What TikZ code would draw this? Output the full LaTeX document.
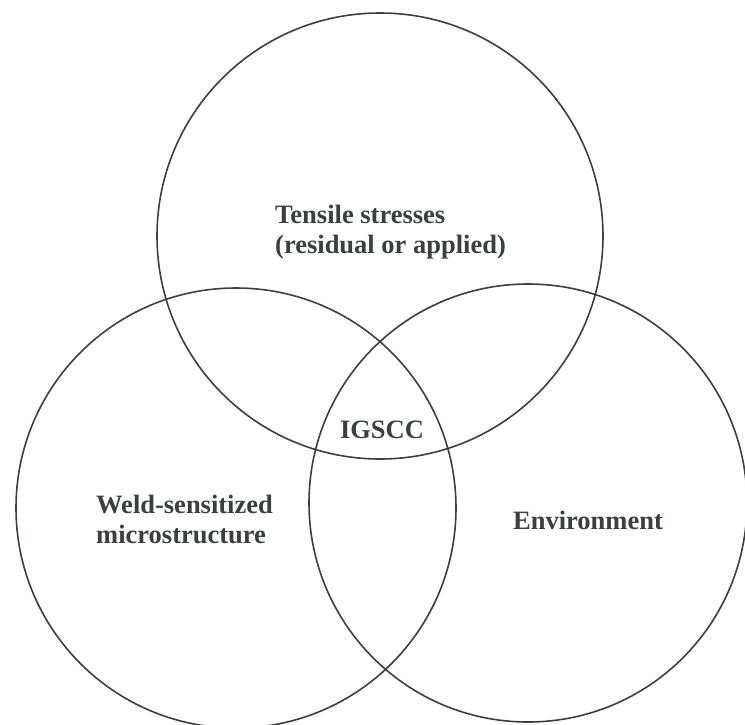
\documentclass[tikz,border=0pt]{standalone}
\usepackage{tikz}
\usepackage{xcolor}
\usepackage{fontspec}
\setmainfont{Liberation Serif}
\usetikzlibrary{shapes,positioning}

\definecolor{inkgray}{HTML}{3A403C}

\begin{document}
\begin{tikzpicture}[x=1pt,y=-1pt,
    venn/.style={circle, draw=inkgray, line width=1.6pt, inner sep=0pt},
    vennlabel/.style={text=inkgray, font=\fontsize{26.5}{30}\selectfont\bfseries, align=left, inner sep=0pt}]
    \useasboundingbox (0,0) rectangle (745,724);
    \begin{scope}
        % The three circles
        \node[venn, minimum size=446pt] (stress) at (380,236) {};
        \node[venn, minimum size=440pt] (weld) at (236,508) {};
        \node[venn, minimum size=438pt] (env) at (528,503) {};

        % Labels inside each circle
        \node[vennlabel, anchor=west] (stresslabel) at (275,232) {Tensile stresses\\(residual or applied)};
        \node[vennlabel, anchor=west] (weldlabel) at (96,519) {Weld-sensitized\\microstructure};
        \node[vennlabel] (envlabel) at (588,520) {Environment};

        % Common region
        \node[vennlabel] (igscc) at (382,430) {IGSCC};
    \end{scope}
\end{tikzpicture}
\end{document}
